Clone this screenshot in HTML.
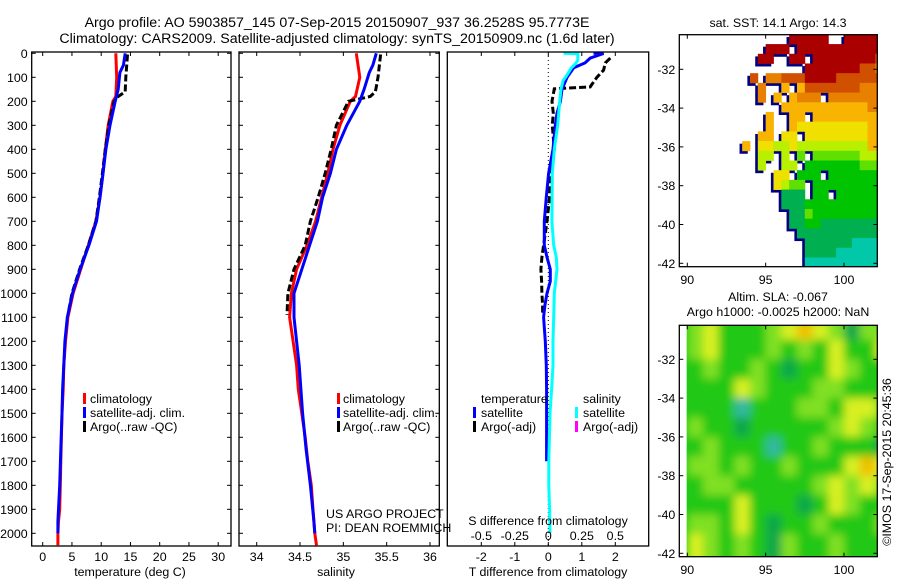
<!DOCTYPE html>
<html><head><meta charset="utf-8"><style>
html,body{margin:0;padding:0;background:#fff;}
svg{display:block;font-family:"Liberation Sans",sans-serif;}
text{font-size:13px;fill:#000;}
</style></head><body>
<svg id="fig" width="900" height="580" viewBox="0 0 900 580" xmlns="http://www.w3.org/2000/svg">
<defs>
<clipPath id="cp1"><rect x="31.7" y="52" width="199.3" height="494"/></clipPath>
<clipPath id="cp2"><rect x="239" y="52" width="200.3" height="494"/></clipPath>
<clipPath id="cp3"><rect x="447.3" y="52" width="201.4" height="494"/></clipPath>
<clipPath id="cpm1"><rect x="679.3" y="34.7" width="198" height="232"/></clipPath>
<clipPath id="cpm2"><rect x="679.3" y="325.3" width="198" height="231.4"/></clipPath>
<filter id="blur" x="-10%" y="-10%" width="120%" height="120%"><feGaussianBlur stdDeviation="4.5"/></filter>
</defs>
<text x="337" y="27" text-anchor="middle" style="font-size:14.2px">Argo profile: AO 5903857_145 07-Sep-2015 20150907_937 36.2528S 95.7773E</text>
<text x="337" y="43" text-anchor="middle" style="font-size:14.2px">Climatology: CARS2009. Satellite-adjusted climatology: synTS_20150909.nc (1.6d later)</text>
<text x="778" y="27" text-anchor="middle" style="font-size:12.4px">sat. SST: 14.1  Argo: 14.3</text>
<text x="778" y="301" text-anchor="middle" style="font-size:12.4px">Altim. SLA: -0.067</text>
<text x="778" y="316" text-anchor="middle" style="font-size:12.4px">Argo h1000: -0.0025 h2000: NaN</text>
<text x="0" y="0" transform="translate(891,462) rotate(-90)" text-anchor="middle" style="font-size:12.4px">©IMOS 17-Sep-2015 20:45:36</text>
<g id="p1"></g>
<g id="p2"></g>
<g id="p3"></g>
<g id="m1"></g>
<g id="m2"></g>
<g>
<rect x="83" y="393" width="3" height="11" fill="#f00"/><text x="90" y="403" style="font-size:12.4px">climatology</text>
<rect x="83" y="407" width="3" height="11" fill="#00f"/><text x="90" y="417" style="font-size:12.4px">satellite-adj. clim.</text>
<rect x="83" y="421" width="3" height="11" fill="#000"/><text x="90" y="431" style="font-size:12.4px">Argo(..raw -QC)</text>
</g>
<g>
<rect x="337" y="393" width="3" height="11" fill="#f00"/><text x="343" y="403" style="font-size:12.4px">climatology</text>
<rect x="337" y="407" width="3" height="11" fill="#00f"/><text x="343" y="417" style="font-size:12.4px">satellite-adj. clim.</text>
<rect x="337" y="421" width="3" height="11" fill="#000"/><text x="343" y="431" style="font-size:12.4px">Argo(..raw -QC)</text>
</g>
<g>
<text x="481" y="403" style="font-size:12.4px">temperature</text>
<rect x="473" y="407" width="3" height="11" fill="#00f"/><text x="481" y="417" style="font-size:12.4px">satellite</text>
<rect x="473" y="421" width="3" height="11" fill="#000"/><text x="481" y="431" style="font-size:12.4px">Argo(-adj)</text>
<text x="583" y="403" style="font-size:12.4px">salinity</text>
<rect x="575" y="407" width="3" height="11" fill="#0ff"/><text x="583" y="417" style="font-size:12.4px">satellite</text>
<rect x="575" y="421" width="3" height="11" fill="#f0f"/><text x="583" y="431" style="font-size:12.4px">Argo(-adj)</text>
</g>
<text x="326" y="518" style="font-size:12.4px">US ARGO PROJECT</text>
<text x="326" y="532" style="font-size:12.4px">PI: DEAN ROEMMICH</text>
<text x="130" y="576" text-anchor="middle" style="font-size:12.4px">temperature (deg C)</text>
<text x="336" y="576" text-anchor="middle" style="font-size:12.4px">salinity</text>
<text x="548" y="525" text-anchor="middle" style="font-size:12.4px">S difference from climatology</text>
<text x="548" y="576" text-anchor="middle" style="font-size:12.4px">T difference from climatology</text>
</svg>
<script>
// ---------- profile data ----------
const depthClim = [0,100,180,200,300,400,500,600,700,800,900,1000,1100,1200,1300,1400,1500,1600,1700,1800,1900,1950,2000,2050];
const tempClim  = [12.5,12.65,12.5,12.0,11.2,10.7,10.3,9.8,9.1,7.8,6.5,5.2,4.3,3.9,3.6,3.5,3.3,3.2,3.1,3.0,2.9,2.7,2.6,2.6];
const salClim   = [35.15,35.19,35.14,35.08,34.96,34.88,34.82,34.75,34.68,34.58,34.46,34.40,34.38,34.42,34.46,34.48,34.52,34.56,34.59,34.63,34.65,34.66,34.67,34.69];
const depthSat  = [0,50,80,150,200,300,400,500,600,700,800,900,1000,1100,1200,1300,1400,1500,1650,1800,1950,2000];
const tempSat   = [14.1,13.8,13.2,12.9,12.4,11.5,10.8,10.3,9.8,9.2,7.9,6.4,5.1,4.2,3.8,3.6,3.4,3.3,3.1,2.9,2.6,2.6];
const salSat    = [35.38,35.34,35.30,35.24,35.19,35.04,34.92,34.85,34.76,34.70,34.61,34.52,34.43,34.43,34.46,34.49,34.51,34.53,34.57,34.62,34.66,34.67];
const depthArgo = [5,100,160,180,200,300,400,500,600,700,800,900,1000,1090];
const tempArgo  = [14.5,14.2,14.1,12.9,12.2,11.3,10.7,10.2,9.7,9.1,7.8,6.3,5.0,4.3];
const salArgo   = [35.43,35.40,35.37,35.31,35.06,34.92,34.86,34.79,34.71,34.62,34.56,34.43,34.36,34.35];
// differences
const depthDT   = [0,1,20,40,60,100,150,200,250,300,400,500,600,700,800,850,900,950,1000,1050,1100,1200,1300,1400,1500,1700];
const dTsat     = [1.35,1.65,1.25,1.1,0.76,0.56,0.41,0.36,0.26,0.21,0.14,0.01,-0.06,-0.12,-0.12,-0.04,0.06,0.06,-0.04,-0.1,-0.14,-0.09,-0.06,-0.05,-0.05,-0.05];
const depthDS   = [0,2,30,45,62,90,115,150,200,300,400,500,600,700,800,850,900,1000,1100,1200,1300,1400,1500,1700,1800,1900,2000];
const dSsat     = [0.114,0.22,0.22,0.2,0.17,0.14,0.11,0.095,0.085,0.07,0.045,0.03,0.028,0.027,0.04,0.06,0.065,0.045,0.04,0.035,0.035,0.025,0.013,0.004,0.004,0.01,0.013];
const depthDTargo = [20,40,70,100,130,140,148,200,250,300,400,500,600,700,800,850,900,950,1000,1050,1090];
const dTargo      = [1.85,1.7,1.65,1.45,1.3,1.25,0.18,0.11,0.15,0.12,0.18,0.06,0.04,-0.04,-0.14,-0.19,-0.22,-0.2,-0.19,-0.17,-0.17];
// ticks
const depthTicks = [0,100,200,300,400,500,600,700,800,900,1000,1100,1200,1300,1400,1500,1600,1700,1800,1900,2000];
const tempTicks = [0,5,10,15,20,25,30];
const salTicks = [34,34.5,35,35.5,36];
const dTTicks = [-2,-1,0,1,2];
const dSTicks = [-0.5,-0.25,0,0.25,0.5];
const lonTicks = [90,95,100];
const latTicks = [-32,-34,-36,-38,-40,-42];
// SST map (0.5 deg cells, lon 89.5.., lat -30.2 downward; '.' = missing, 0-9 colour level)
const sstRows = [
"..............99999..99999",
"...........999.99999999999",
"..........99..99.999999998",
"................9999999887",
".........8.778889999888888",
"..........7..6.68888888777",
"..........7.6.6777.7777777",
".............6666666666677",
"...........6..66.666666666",
"...........6..655555555566",
"..........66.55.5555555566",
"........6.5544544444444466",
"..........44.4.3.333333444",
"..........4..44.2222222333",
"............55.222.2222222",
"............5433.222222222",
".............111.22.222222",
".............1112222222222",
"..............113222222222",
"..............112211111111",
"...............11111111111",
"................1111110000",
"................1111000000",
"................0000000000"];
const sstLevels = [0,1,2,3,4,5,6,7,8,9];
// SLA map (1 deg cells, lon 90.., lat -30..)
const slaRows = [
[1,2,0,0,0,1,2,3,2,1,-1,1,1],
[1,2,0,0,0,1,0,1,0,2,0,0,2],
[0,1,0,0,1,0,-1,0,0,2,1,0,0],
[0,0,0,2,1,0,0,0,1,1,0,0,0],
[0,0,0,-2,0,0,0,1,1,0,2,2,1],
[1,0,0,-1,0,0,0,0,0,1,2,1,0],
[0,1,0,0,0,-2,0,0,1,0,0,0,-1],
[1,1,0,1,0,0,1,0,0,0,2,3,2],
[0,1,1,0,0,0,0,0,1,2,1,2,1],
[0,0,0,2,0,0,0,-1,0,2,1,0,0],
[1,1,0,2,0,-1,0,0,1,0,0,0,1],
[2,1,0,1,0,-1,1,0,0,1,0,0,0],
[2,1,0,1,0,-1,1,0,0,1,0,0,0]];

const NS='http://www.w3.org/2000/svg';
const sstColors = ['#00c8a8','#00b050','#00c400','#60e000','#b8f000','#f0e000','#f8b400','#e88000','#d05000','#aa0000'];
const slaColors = {'-2':'#30b8a0','-1':'#10a848','0':'#22c818','1':'#80e020','2':'#d8f020','3':'#f0c000'};

function mk(tag, attrs, parent){
  const e=document.createElementNS(NS,tag);
  for(const k in attrs) e.setAttribute(k,attrs[k]);
  parent.appendChild(e); return e;
}
function lin(d0,d1,r0,r1){ return v => r0+(v-d0)*(r1-r0)/(d1-d0); }

const yD = lin(0,2000,53.3,533.3);
const TOP=52, BOT=546;

function box(g,x0,x1,y0,y1){
  const r=mk('rect',{x:x0,y:y0,width:x1-x0,height:y1-y0,fill:'none',stroke:'#000','stroke-width':1.3},g);
  
  
}
function xTicks(g,vals,sx,y0,y1,labelY,fmt,top){
  vals.forEach(v=>{
    const x=sx(v);
    if(top!==false) mk('line',{x1:x,x2:x,y1:y0,y2:y0+4,stroke:'#000'},g);
    mk('line',{x1:x,x2:x,y1:y1,y2:y1-4,stroke:'#000'},g);
    if(labelY){
      const t=mk('text',{x:x,y:labelY,'text-anchor':'middle',style:'font-size:12.4px'},g);
      t.textContent=fmt?fmt(v):String(v);
      
      
    }
  });
}
function yTicks(g,vals,sy,x0,x1,labels){
  vals.forEach(v=>{
    const y=sy(v);
    mk('line',{x1:x0,x2:x0+4,y1:y,y2:y,stroke:'#000'},g);
    mk('line',{x1:x1,x2:x1-4,y1:y,y2:y,stroke:'#000'},g);
    if(labels){
      const t=mk('text',{x:x0-4,y:y+4.5,'text-anchor':'end',style:'font-size:12.4px'},g);
      t.textContent=String(v);
      
      
    }
  });
}
function line(g,xs,ds,sx,color,name,dash,w){
  const pts=xs.map((v,i)=>sx(v).toFixed(1)+','+yD(ds[i]).toFixed(1)).join(' ');
  const p=mk('polyline',{points:pts,fill:'none',stroke:color,'stroke-width':w||3,'stroke-linejoin':'miter'},g);
  if(dash) p.setAttribute('stroke-dasharray',dash);
  
  
}

// Panel 1: temperature
(function(){
  const g=document.getElementById('p1');
  const sx=lin(0,30,42.7,218.2);
  const c=mk('g',{'clip-path':'url(#cp1)'},g);
  line(c,tempClim,depthClim,sx,'#ff0000','temperature-climatology-line');
  line(c,tempArgo,depthArgo,sx,'#000000','temperature-argo-line','7,3');
  line(c,tempSat,depthSat,sx,'#0000ff','temperature-satellite-line');
  box(g,31.7,231,TOP,BOT);
  xTicks(g,tempTicks,sx,TOP,BOT,561);
  yTicks(g,depthTicks,yD,31.7,231,true);
})();
// Panel 2: salinity
(function(){
  const g=document.getElementById('p2');
  const sx=lin(34,36,256.7,430);
  const c=mk('g',{'clip-path':'url(#cp2)'},g);
  line(c,salClim,depthClim,sx,'#ff0000','salinity-climatology-line');
  line(c,salArgo,depthArgo,sx,'#000000','salinity-argo-line','7,3');
  line(c,salSat,depthSat,sx,'#0000ff','salinity-satellite-line');
  box(g,239,439.3,TOP,BOT);
  xTicks(g,salTicks,sx,TOP,BOT,561);
  yTicks(g,depthTicks,yD,239,439.3,false);
})();
// Panel 3: differences
(function(){
  const g=document.getElementById('p3');
  const sxT=lin(0,1,548.3,581.8);
  const sxS=lin(0,0.25,548.3,581.8);
  const z=mk('line',{x1:548.3,x2:548.3,y1:TOP,y2:BOT,stroke:'#000','stroke-dasharray':'1,3'},g);
  
  
  const c=mk('g',{'clip-path':'url(#cp3)'},g);
  line(c,dTargo,depthDTargo,sxT,'#000000','t-diff-argo-line','7,3');
  line(c,dTsat,depthDT,sxT,'#0000ff','t-diff-satellite-line');
  line(c,dSsat,depthDS,sxS,'#00ffff','s-diff-satellite-line');
  box(g,447.3,648.7,TOP,BOT);
  xTicks(g,dTTicks,sxT,TOP,BOT,561);
  dSTicks.forEach(v=>{
    const t=mk('text',{x:sxS(v),y:540,'text-anchor':'middle',style:'font-size:12.4px'},g);
    t.textContent=String(v);
    
    
  });
})();
// Map axes helper
function mapAxes(g,y0,y1,sx,sy,labelY){
  box(g,679.3,877.3,y0,y1);
  xTicks(g,lonTicks,sx,y0,y1,labelY);
  yTicks(g,latTicks,sy,679.3,877.3,true);
}
// SST map
(function(){
  const g=document.getElementById('m1');
  const sx=lin(90,100,687.3,844);
  const sy=lin(-32,-42,69.3,263.3);
  const c=mk('g',{'clip-path':'url(#cpm1)'},g);
  const shadow=mk('g',{},c), cells=mk('g',{},c);
  sstRows.forEach((row,r)=>{
    for(let k=0;k<row.length;k++){
      const ch=row[k]; if(ch==='.') continue;
      const lv=sstLevels[parseInt(ch,10)];
      const lon=89.5+0.5*k, lat=-30.2-0.5*r;
      const x=sx(lon), y=sy(lat), w=sx(lon+0.5)-x, h=sy(lat-0.5)-y;
      const s=mk('rect',{x:x-2.6,y:y+2.6,width:w+0.4,height:h+0.4,fill:'#000080'},shadow);
      
      
      const e=mk('rect',{x:x,y:y,width:w+0.4,height:h+0.4,fill:sstColors[lv]},cells);
      
      
    }
  });
  mapAxes(g,34.7,266.7,sx,sy,284);
})();
// SLA map
(function(){
  const g=document.getElementById('m2');
  const sx=lin(90,100,687.3,844);
  const sy=lin(-32,-42,359.3,553.3);
  mk('rect',{x:686.7,y:325.3,width:191,height:231.4,fill:'#22c818'},mk('g',{'clip-path':'url(#cpm2)'},g));
  const c=mk('g',{'clip-path':'url(#cpm2)'},g);
  const inner=mk('svg',{x:686.7,y:325.3,width:191,height:231.4,overflow:'hidden'},c);
  const bl=mk('g',{filter:'url(#blur)',transform:'translate(-686.7,-325.3)'},inner);
  slaRows.forEach((row,r)=>{
    row.forEach((v,k)=>{
      const lon=90+k, lat=-30-r;
      const x=sx(lon), y=sy(lat);
      const e=mk('rect',{x:x,y:y,width:sx(lon+1)-x+0.5,height:sy(lat-1)-y+0.5,fill:slaColors[String(v)]},bl);
      
      
    });
  });
  mapAxes(g,325.3,556.7,sx,sy,574);
})();
</script>
</body></html>
